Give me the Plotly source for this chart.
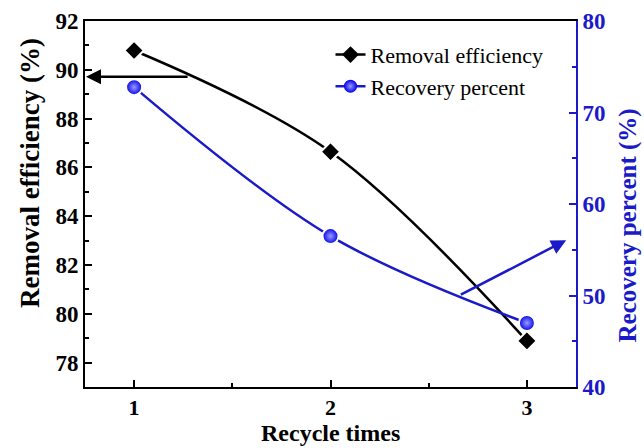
import plotly.graph_objects as go

recycle = [1, 2, 3]
removal = [90.79, 86.64, 78.89]
recovery = [72.77, 56.49, 47.0]
x_ticks = [1, 2, 3]

BLUE = "#1a1ac8"
FONT = "Liberation Serif, Times New Roman, serif"

fig = go.Figure()
fig.add_trace(go.Scatter(
    x=recycle, y=removal, name="Removal efficiency", mode="lines+markers", showlegend=False,
    line=dict(color="black", width=2.5, shape="spline", smoothing=1),
    marker=dict(symbol="diamond", size=15, color="black",
                line=dict(color="white", width=2)),
))
fig.add_trace(go.Scatter(
    x=recycle, y=recovery, name="Recovery percent", mode="lines+markers", yaxis="y2", showlegend=False,
    line=dict(color=BLUE, width=2.5, shape="spline", smoothing=1),
    marker=dict(symbol="circle", size=16, color="#0000e8",
                gradient=dict(type="radial", color="#9a9aff"),
                line=dict(color="white", width=2)),
))
# legend entries (continuous line through marker)
fig.add_trace(go.Scatter(
    x=[None], y=[None], name="Removal efficiency", mode="lines+markers",
    line=dict(color="black", width=2.5),
    marker=dict(symbol="diamond", size=13, color="black"),
))
fig.add_trace(go.Scatter(
    x=[None], y=[None], name="Recovery percent", mode="lines+markers", yaxis="y2",
    line=dict(color=BLUE, width=2.5),
    marker=dict(symbol="circle", size=13, color="#0000e8",
                gradient=dict(type="radial", color="#9a9aff")),
))

# arrows indicating the axes
fig.add_annotation(x=0.755, y=89.72, xref="x", yref="y", ax=1.28, ay=89.72,
                   axref="x", ayref="y", showarrow=True, arrowhead=2, arrowsize=1.2,
                   arrowwidth=2.5, arrowcolor="black", text="")
fig.add_annotation(x=3.2, y=56.05, xref="x", yref="y2", ax=2.656, ay=50.0,
                   axref="x", ayref="y2", showarrow=True, arrowhead=2, arrowsize=1.2,
                   arrowwidth=2.5, arrowcolor=BLUE, text="")

# axis titles
fig.add_annotation(x=-0.112, y=0.585, xref="paper", yref="paper", showarrow=False,
                   xanchor="center", yanchor="middle",
                   text="<b>Removal efficiency (%)</b>", textangle=-90,
                   font=dict(size=27, family=FONT, color="black"))
fig.add_annotation(x=1.105, y=0.44, xref="paper", yref="paper", showarrow=False,
                   xanchor="center", yanchor="middle",
                   text="<b>Recovery percent (%)</b>", textangle=-90,
                   font=dict(size=25, family=FONT, color=BLUE))
fig.add_annotation(x=0.5, y=-0.1667, xref="paper", yref="paper", showarrow=False,
                   xanchor="center", yanchor="bottom",
                   text="<b>Recycle times</b>",
                   font=dict(size=24, family=FONT, color="black"))

fig.update_layout(
    width=644, height=448,
    margin=dict(l=85, r=68, t=21, b=61),
    paper_bgcolor="white", plot_bgcolor="white",
    font=dict(family=FONT, color="black"),
    showlegend=True,
    legend=dict(x=0.5, y=0.965, xanchor="left", yanchor="top",
                bgcolor="rgba(0,0,0,0)", font=dict(size=22, family=FONT),
                tracegroupgap=0, itemwidth=30),
    xaxis=dict(range=[0.75, 3.25], tickvals=x_ticks, ticktext=[str(v) for v in x_ticks],
               automargin=False,
               showgrid=False, zeroline=False, showline=True, linecolor="black",
               linewidth=2, mirror=True, ticks="inside", ticklen=7, tickwidth=1.5,
               tickcolor="black",
               minor=dict(ticks="inside", dtick=0.5, tick0=1, ticklen=4, tickwidth=1.5, tickcolor="black"),
               tickfont=dict(size=22, family=FONT, weight="bold")),
    yaxis=dict(range=[77, 92], dtick=2, tick0=78, showgrid=False, zeroline=False,
               automargin=False,
               showline=True, linecolor="black", linewidth=2,
               ticks="inside", ticklen=7, tickwidth=1.5, tickcolor="black",
               minor=dict(ticks="inside", dtick=1, tick0=77, ticklen=4, tickwidth=1.5, tickcolor="black"),
               tickfont=dict(size=23, family=FONT, weight="bold")),
    yaxis2=dict(range=[40, 80], dtick=10, overlaying="y", side="right", showgrid=False,
                automargin=False,
                zeroline=False, showline=True, linecolor=BLUE, linewidth=2,
                ticks="inside", ticklen=7, tickwidth=1.5, tickcolor=BLUE,
                minor=dict(ticks="inside", dtick=5, ticklen=4, tickwidth=1.5, tickcolor=BLUE),
                tickfont=dict(size=23, family=FONT, weight="bold", color=BLUE)),
)

fig.write_html("out.html")
